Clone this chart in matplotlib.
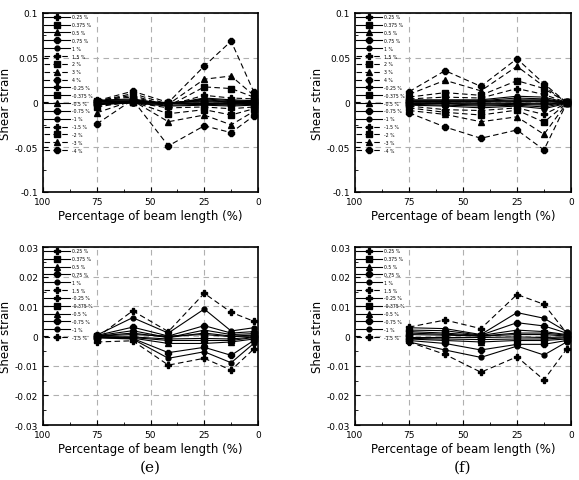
import matplotlib
matplotlib.use("Agg")
import matplotlib.pyplot as plt
from matplotlib.ticker import FixedLocator, FuncFormatter

# positions along the beam (%)
x_pos = [75, 58.3, 41.7, 25, 12.5, 2]

labels_big = ['0.25 %', '0.375 %', '0.5 %', '0.75 %', '1 %', '1.5 %', '2 %', '3 %', '4 %',
              '-0.25 %', '-0.375 %', '-0.5 %', '-0.75 %', '-1 %', '-1.5 %', '-2 %', '-3 %', '-4 %']
labels_small = ['0.25 %', '0.375 %', '0.5 %', '0.75 %', '1 %', '1.5 %',
                '-0.25 %', '-0.375 %', '-0.5 %', '-0.75 %', '-1 %', '-1.5 %']

# panel (c) - top left
strain_c = [
    [0.0005, 0.001, 0.0, 0.001, 0.0, 0.0],
    [0.001, 0.0015, -0.0005, 0.002, 0.0005, 0.0005],
    [0.0015, 0.002, -0.001, 0.003, 0.001, 0.001],
    [0.002, 0.003, -0.0015, 0.004, 0.002, 0.0015],
    [0.0025, 0.004, -0.002, 0.005, 0.003, 0.002],
    [0.003, 0.006, -0.003, 0.008, 0.005, 0.004],
    [0.0015, 0.008, -0.004, 0.0174, 0.0156, 0.006],
    [0.001, 0.010, -0.002, 0.026, 0.0296, 0.008],
    [0.002, 0.0126, 0.0, 0.0407, 0.0685, 0.012],
    [-0.0005, 0.0005, -0.0005, -0.0005, -0.001, -0.0005],
    [-0.001, 0.0005, -0.001, -0.001, -0.0015, -0.001],
    [-0.0015, 0.0, -0.0015, -0.0015, -0.002, -0.0015],
    [-0.002, 0.0, -0.003, -0.002, -0.003, -0.002],
    [-0.0025, -0.0005, -0.004, -0.003, -0.004, -0.003],
    [-0.003, 0.0, -0.006, -0.005, -0.007, -0.005],
    [-0.005, 0.001, -0.0126, -0.008, -0.014, -0.007],
    [-0.0115, 0.002, -0.0215, -0.014, -0.025, -0.01],
    [-0.024, 0.003, -0.0485, -0.026, -0.0337, -0.015],
]

# panel (d) - top right
strain_d = [
    [0.0005, 0.0005, 0.0005, 0.001, 0.001, 0.0],
    [0.001, 0.001, 0.001, 0.002, 0.002, 0.0],
    [0.0015, 0.0015, 0.0015, 0.003, 0.003, 0.0],
    [0.002, 0.002, 0.002, 0.005, 0.004, 0.0],
    [0.003, 0.003, 0.003, 0.007, 0.006, 0.0],
    [0.004, 0.006, 0.005, 0.0156, 0.009, 0.0],
    [0.006, 0.011, 0.008, 0.0244, 0.0156, 0.0],
    [0.009, 0.0248, 0.013, 0.0404, 0.018, 0.0],
    [0.012, 0.0356, 0.018, 0.0489, 0.021, 0.0],
    [-0.0005, -0.0005, -0.001, -0.0005, -0.001, 0.0],
    [-0.001, -0.001, -0.002, -0.001, -0.002, 0.0],
    [-0.0015, -0.0015, -0.003, -0.002, -0.003, -0.0005],
    [-0.002, -0.003, -0.004, -0.003, -0.005, -0.0005],
    [-0.003, -0.004, -0.006, -0.004, -0.007, -0.001],
    [-0.004, -0.008, -0.009, -0.006, -0.0133, -0.001],
    [-0.006, -0.011, -0.014, -0.0085, -0.022, -0.001],
    [-0.009, -0.0133, -0.0215, -0.016, -0.0356, -0.001],
    [-0.0115, -0.0274, -0.040, -0.0307, -0.053, -0.001],
]

# panel (e) - bottom left
strain_e = [
    [0.0, 0.0005, 0.0, 0.0005, -0.0002, 0.0],
    [0.0, 0.001, -0.0005, 0.001, 0.0, 0.0003],
    [0.0001, 0.0018, -0.0005, 0.002, 0.0005, 0.0008],
    [0.0002, 0.003, 0.0, 0.0035, 0.001, 0.0015],
    [0.0003, 0.0062, 0.001, 0.0091, 0.0017, 0.0028],
    [-0.0005, 0.0085, 0.0015, 0.0144, 0.008, 0.005],
    [-0.0002, -0.0003, -0.001, -0.0008, -0.001, -0.0003],
    [-0.0003, -0.0005, -0.0015, -0.0015, -0.0015, -0.0005],
    [-0.0004, -0.0007, -0.0025, -0.0025, -0.002, -0.001],
    [-0.0005, -0.0008, -0.0056, -0.0038, -0.0065, -0.0015],
    [-0.0006, -0.001, -0.0075, -0.0053, -0.009, -0.0025],
    [-0.002, -0.0016, -0.0098, -0.0075, -0.0115, -0.0044],
]

# panel (f) - bottom right
strain_f = [
    [0.0005, 0.0003, 0.0, 0.0005, 0.0005, 0.0],
    [0.001, 0.0006, 0.0, 0.001, 0.001, 0.0003],
    [0.0015, 0.001, 0.0002, 0.002, 0.0015, 0.0005],
    [0.002, 0.0018, 0.0003, 0.0045, 0.0034, 0.001],
    [0.0028, 0.0025, 0.0005, 0.0079, 0.006, 0.0015],
    [0.003, 0.0054, 0.0025, 0.014, 0.0107, 0.001],
    [-0.0005, -0.0005, -0.0005, -0.0003, -0.0005, -0.0003],
    [-0.0008, -0.001, -0.0012, -0.001, -0.001, -0.0006],
    [-0.001, -0.0015, -0.002, -0.0015, -0.0015, -0.001],
    [-0.0015, -0.0025, -0.0047, -0.0028, -0.0028, -0.0015],
    [-0.002, -0.0047, -0.0072, -0.0034, -0.0064, -0.002],
    [-0.002, -0.0062, -0.0122, -0.007, -0.0148, -0.0044],
]

markers = ['P', 's', '^', '8', 'o']
msizes = {'P': 5, 's': 5, '^': 4.5, '8': 4.5, 'o': 3.5}


def style_for(lab):
    v = abs(float(lab.replace('%', '')))
    order = ['0.25', '0.375', '0.5', '0.75', '1', '1.5', '2', '3', '4']
    idx = order.index(('%g' % v))
    m = markers[idx % 5] if idx < 5 else markers[(idx - 5) % 4]
    ls = '-' if v <= 1 else (0, (5, 3))
    return m, ls


def fmt(v, pos):
    if abs(v) < 1e-12:
        return '0'
    return '%g' % round(v, 4)


def draw(ax, data, labels, ylim, ymaj, ymin):
    for vals, lab in zip(data, labels):
        m, ls = style_for(lab)
        ax.plot(x_pos, vals, color='black', lw=0.8, linestyle=ls, marker=m,
                markersize=msizes[m], markerfacecolor='black', markeredgecolor='black',
                label=lab)
    ax.set_xlim(100, 0)
    ax.set_ylim(*ylim)
    ax.xaxis.set_major_locator(FixedLocator([100, 75, 50, 25, 0]))
    ax.xaxis.set_minor_locator(FixedLocator([87.5, 62.5, 37.5, 12.5]))
    ax.yaxis.set_major_locator(FixedLocator(ymaj))
    ax.yaxis.set_minor_locator(FixedLocator(ymin))
    ax.yaxis.set_major_formatter(FuncFormatter(fmt))
    ax.tick_params(which='both', direction='in', labelsize=6.5, top=False, right=False)
    ax.tick_params(which='major', length=3.5)
    ax.tick_params(which='minor', length=2.5)
    ax.grid(True, which='major', linestyle=(0, (5, 4)), color='#b0b0b0', lw=0.8)
    ax.set_axisbelow(True)
    for s in ax.spines.values():
        s.set_linewidth(1.2)
    ax.set_xlabel('Percentage of beam length (%)', fontsize=8.5, labelpad=2)
    ax.set_ylabel('Shear strain', fontsize=8.5, labelpad=2)
    leg = ax.legend(loc='upper left', fontsize=3.3, frameon=False, handlelength=5.5,
                    handletextpad=0.6, labelspacing=0.62, borderaxespad=0.2,
                    borderpad=0.1)


fig = plt.figure(figsize=(5.79, 4.81), dpi=100)

ax_c = fig.add_axes([0.0743, 0.5988, 0.3713, 0.3721])
ax_d = fig.add_axes([0.6131, 0.5988, 0.3730, 0.3721])
ax_e = fig.add_axes([0.0743, 0.1143, 0.3713, 0.3700])
ax_f = fig.add_axes([0.6131, 0.1143, 0.3730, 0.3700])

big_maj = [-0.1, -0.05, 0, 0.05, 0.1]
big_min = [-0.075, -0.025, 0.025, 0.075]
small_maj = [-0.03, -0.02, -0.01, 0, 0.01, 0.02, 0.03]
small_min = [-0.025, -0.015, -0.005, 0.005, 0.015, 0.025]

draw(ax_c, strain_c, labels_big, (-0.1, 0.1), big_maj, big_min)
draw(ax_d, strain_d, labels_big, (-0.1, 0.1), big_maj, big_min)
draw(ax_e, strain_e, labels_small, (-0.03, 0.03), small_maj, small_min)
draw(ax_f, strain_f, labels_small, (-0.03, 0.03), small_maj, small_min)

fig.text(0.2599, 0.028, '(e)', fontsize=11, family='serif', ha='center', va='center')
fig.text(0.7996, 0.028, '(f)', fontsize=11, family='serif', ha='center', va='center')

fig.savefig('out.png', dpi=100)
